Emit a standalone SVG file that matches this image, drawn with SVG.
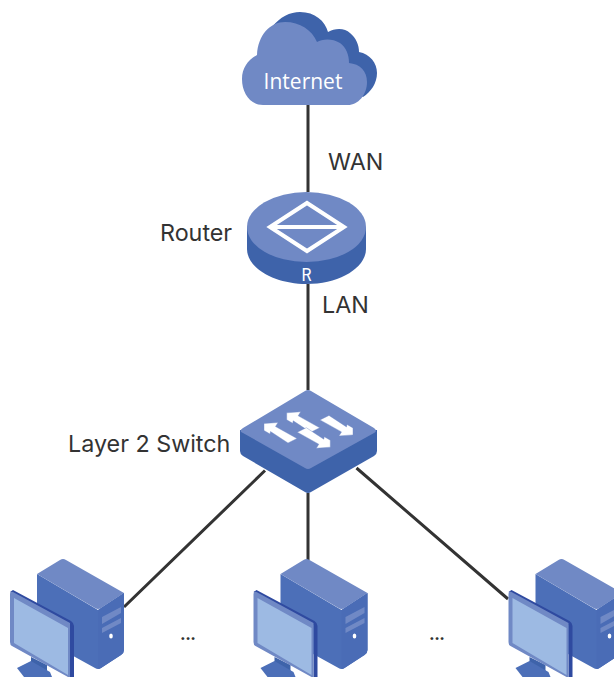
<svg xmlns="http://www.w3.org/2000/svg" width="614" height="677" viewBox="0 0 614 677">
<style>
text{font-family:Inter,"Liberation Sans",sans-serif;fill:#333;font-size:23.300px}
.l{fill:#7089c5}.d{fill:#3e63aa}.m{fill:#4c6fb8}
.w{fill:#fff}
.a{fill:#fff;stroke:#7089c5;stroke-width:.4}
.c{stroke:#333;stroke-width:3;fill:none}
</style>
<defs>
<path id="arL" class="a" d="M264 423.500L278 422.500L275.500 426.500L297 438.500L288 443L270.500 431.500L270 434L264 430.500Z"/>
<path id="arR" class="a" d="M330.300 447.200L316.300 448.200L318.800 444.200L297.300 432.200L306.300 427.700L323.800 439.200L324.300 436.700L330.300 440.200Z"/>
<g id="pc">
<path class="m" d="M37 574L98 610L124 593V650Q124 653 121 655L101 668Q98 670 95 668L37 636Z"/>
<path class="l" d="M37 574L60 560Q63 558 66 560L124 593L101 608Q98 610 95 608Z"/>
<path class="m" d="M98 610L124 593V650Q124 653 121 655L101 668Q98 670 98 668Z" style="fill:#4a6cb6"/>
<path class="l" d="M102 617L121 607V613L102 624ZM102 628L121 618V623L102 633Z"/>
<ellipse class="w" cx="111" cy="636" rx="1.800" ry="2.500"/>
<path class="d" d="M31 657L47 665V677H31Z"/>
<path class="m" d="M17 668L31 661L50 672L52 677H24Z"/>
<path fill="#2f4aa0" d="M13 590L71 621Q74 623 74 626V677H70V625L10 592Z"/>
<path class="l" d="M10 594Q10 591 13 592L70 623V677H68L12 646Q10 645 10 642Z"/>
<path fill="#9dbae3" d="M14 598L68 628V675L14 643Z"/>
</g>
</defs>
<g id="connectors">
<path class="c" d="M308 105V192M308 284V390M308 493V560M265 470.500L124 607M356.500 468L508 599"/>
</g>
<g id="internet">
<path class="d" d="M272 27C280 17 290 12 300 12C315 12 325 21 328 32C335 28 345 28 350 33C356 38 359 45 359 52C370 54 377 63 377 73C377 83 371 92 363 97L330 80Z"/>
<path class="l" d="M263 105C250 105 242 93 242 79C242 68 248 60 257 55C258 35 270 22 285 22C300 22 312 30 317 42C322 39 332 38 340 43C346 47 349 55 349 63C360 64 367 71 367 82C367 95 358 105 348 105Z"/>
<text x="303" y="88.500" text-anchor="middle" style="fill:#fff;font-size:21px;font-family:'Open Sans',sans-serif">Internet</text>
</g>
<g id="router">
<path class="d" d="M247 227V249C247 268 274 284 306.500 284C339 284 366 268 366 249V227Z"/>
<ellipse class="l" cx="306.500" cy="227" rx="59.500" ry="35"/>
<path d="M307 203L344 227L307 251L270 227ZM270 227H344" fill="none" stroke="#fff" stroke-width="4"/>
<text x="306.500" y="281" text-anchor="middle" style="fill:#fff;font-size:18px;font-family:Roboto,sans-serif" textLength="10" lengthAdjust="spacingAndGlyphs">R</text>
<text x="160" y="241">Router</text>
<text x="328" y="170">WAN</text>
<text x="322" y="313">LAN</text>
</g>
<g id="switch">
<path class="d" d="M240 430V451Q240 454 243 456L305 492Q308 494 311 492L374 456Q377 454 377 451V430Z"/>
<path class="l" d="M243 428L305 391Q308 389 311 391L374 428Q378 431 374 433L311 468Q308 470 305 468L243 433Q238 431 243 428Z"/>
<use href="#arL"/><use href="#arL" x="22.700" y="-10.700"/>
<use href="#arR"/><use href="#arR" x="22.700" y="-12.300"/>
<text x="68" y="452">Layer 2 Switch</text>
</g>
<g id="pc1"><use href="#pc"/></g>
<g id="pc2"><use href="#pc" x="243.500"/></g>
<g id="pc3"><use href="#pc" x="498.500"/></g>
<text x="180" y="640" style="font-size:17px;font-weight:700" textLength="16">...</text>
<text x="429" y="640" style="font-size:17px;font-weight:700" textLength="16">...</text>
</svg>
